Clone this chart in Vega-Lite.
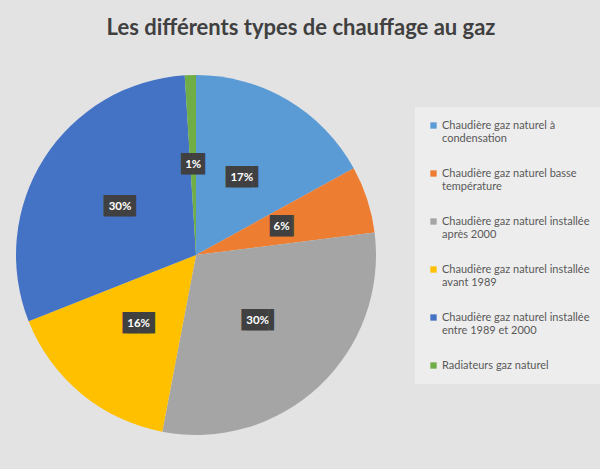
{
  "$schema": "https://vega.github.io/schema/vega-lite/v6.json",
  "autosize": "none",
  "width": 360,
  "height": 360,
  "padding": {"top": 75, "left": 16, "right": 224, "bottom": 34},
  "background": "#e3e3e3",
  "title": {
    "text": "Les différents types de chauffage au gaz",
    "font": "Lato",
    "fontSize": 22,
    "fontWeight": "bold",
    "color": "#404040",
    "anchor": "middle",
    "baseline": "alphabetic",
    "offset": 18,
    "dx": 105
  },
  "config": {
    "view": {"stroke": null},
    "font": "Lato"
  },
  "data": {
    "values": [
      {"type": "Chaudière gaz naturel à condensation", "part": 0.17, "i": 1},
      {"type": "Chaudière gaz naturel basse température", "part": 0.06, "i": 2},
      {"type": "Chaudière gaz naturel installée après 2000", "part": 0.30, "i": 3},
      {"type": "Chaudière gaz naturel installée avant 1989", "part": 0.16, "i": 4},
      {"type": "Chaudière gaz naturel installée entre 1989 et 2000", "part": 0.30, "i": 5},
      {"type": "Radiateurs gaz naturel", "part": 0.01, "i": 6}
    ]
  },
  "encoding": {
    "theta": {"field": "part", "type": "quantitative", "stack": true},
    "order": {"field": "i", "type": "quantitative"}
  },
  "layer": [
    {
      "mark": {"type": "arc"},
      "encoding": {
        "color": {
          "field": "type",
          "type": "nominal",
          "scale": {
            "domain": [
              "Chaudière gaz naturel à condensation",
              "Chaudière gaz naturel basse température",
              "Chaudière gaz naturel installée après 2000",
              "Chaudière gaz naturel installée avant 1989",
              "Chaudière gaz naturel installée entre 1989 et 2000",
              "Radiateurs gaz naturel"
            ],
            "range": ["#5b9bd5", "#ed7d31", "#a5a5a5", "#ffc000", "#4472c4", "#70ad47"]
          },
          "legend": {
            "title": null,
            "orient": "none",
            "legendX": 399,
            "legendY": 32,
            "padding": 13,
            "fillColor": "rgba(255,255,255,0.35)",
            "symbolType": "square",
            "symbolSize": 40,
            "symbolStrokeWidth": 0,
            "labelFont": "Lato",
            "labelFontSize": 11,
            "labelColor": "#595959",
            "labelLimit": 200,
            "labelOffset": 3,
            "rowPadding": 23,
            "labelExpr": "length(datum.label) > 24 ? [slice(datum.label, 0, lastindexof(slice(datum.label, 0, 32), ' ')), slice(datum.label, lastindexof(slice(datum.label, 0, 32), ' ') + 1)] : datum.label"
          }
        }
      }
    },
    {
      "mark": {"type": "text", "radius": 90, "font": "DejaVu Sans Mono", "fontSize": 18, "color": "#404040", "baseline": "middle"},
      "encoding": {
        "text": {"condition": {"test": "datum.part < 0.1", "value": "▕██▏"}, "value": "▐██▌"}
      }
    },
    {
      "mark": {"type": "text", "radius": 90, "font": "Lato", "fontSize": 11.5, "fontWeight": "bold", "color": "#ffffff", "baseline": "middle"},
      "encoding": {
        "text": {"field": "part", "type": "quantitative", "format": ".0%"}
      }
    }
  ]
}
